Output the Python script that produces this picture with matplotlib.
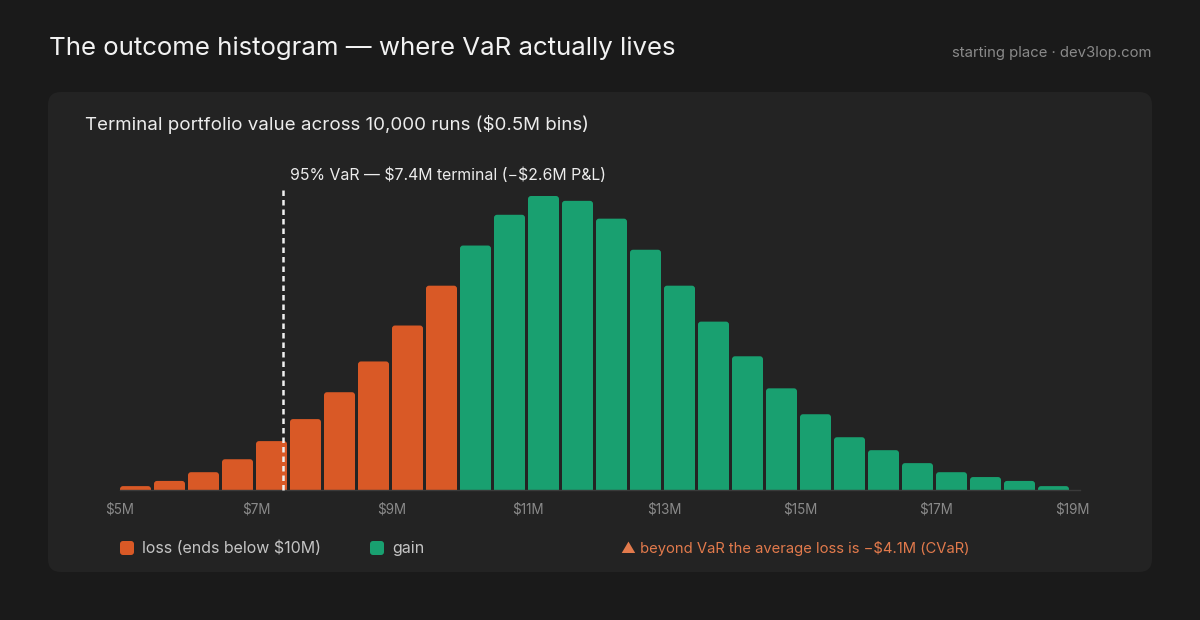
import numpy as np
import matplotlib
matplotlib.use('Agg')
import matplotlib.pyplot as plt
from matplotlib.patches import FancyBboxPatch

plt.rcParams['font.family'] = ['Inter', 'DejaVu Sans']
plt.rcParams['text.parse_math'] = False

# datos: inicio de cada bin ($M) y numero de corridas
bin_lo = [5.0, 5.5, 6.0, 6.5, 7.0, 7.5, 8.0, 8.5, 9.0, 9.5,
          10.0, 10.5, 11.0, 11.5, 12.0, 12.5, 13.0, 13.5, 14.0, 14.5,
          15.0, 15.5, 16.0, 16.5, 17.0, 17.5, 18.0, 18.5]
counts = [12, 28, 55, 95, 151, 219, 302, 397, 508, 631,
          755, 850, 908, 893, 838, 742, 631, 520, 413, 314,
          234, 163, 123, 83, 55, 40, 28, 12]
bin_w = 0.5
start_value = 10.0
var_value = 7.4
tick_vals = [5, 7, 9, 11, 13, 15, 17, 19]
tick_labels = ['$%dM' % v for v in tick_vals]

title = 'The outcome histogram \u2014 where VaR actually lives'
subtitle = 'Terminal portfolio value across 10,000 runs ($0.5M bins)'
source = 'starting place \u00b7 dev3lop.com'
var_label = '95% VaR \u2014 $7.4M terminal (\u2212$2.6M P&L)'
cvar_note = '\u25b2 beyond VaR the average loss is \u2212$4.1M (CVaR)'
loss_label = 'loss (ends below $10M)'
gain_label = 'gain'

BG = '#1a1a1a'
CARD = '#232323'
ORANGE = '#d95926'
GREEN = '#19a070'

W, H = 1200, 620
fig = plt.figure(figsize=(W/100., H/100.), dpi=100, facecolor=BG)

# capa de fondo en pixeles
bg = fig.add_axes([0, 0, 1, 1])
bg.set_xlim(0, W)
bg.set_ylim(H, 0)
bg.axis('off')
bg.add_patch(FancyBboxPatch((48, 92), 1104, 480,
                            boxstyle='round,pad=0,rounding_size=13',
                            facecolor=CARD, edgecolor='none'))
bg.text(49, 48, title, fontsize=18.6, color='#f2f2f2', va='center', ha='left')
bg.text(1152, 53, source, fontsize=10.7, color='#8a8a8a', va='center', ha='right')
bg.text(85, 124, subtitle, fontsize=13.5, color='#ececec', va='center', ha='left')

# leyenda
for x0, c, lab in [(120, ORANGE, loss_label), (370, GREEN, gain_label)]:
    bg.add_patch(FancyBboxPatch((x0, 541), 14, 14,
                                boxstyle='round,pad=0,rounding_size=3',
                                facecolor=c, edgecolor='none'))
    bg.text(x0 + 22, 548, lab, fontsize=11.5, color='#c4c4c4', va='center', ha='left')
bg.text(621, 548, cvar_note, fontsize=10.65, color='#e27a4c', va='center', ha='left')

# histograma
px_per_m = 68.
ax_left, ax_right, ax_base, ax_top = 120, 1080, 490, 190
ax = fig.add_axes([ax_left/W, 1 - ax_base/float(H),
                   (ax_right - ax_left)/float(W), (ax_base - ax_top)/float(H)])
ax.set_facecolor('none')
xmin = bin_lo[0]
ax.set_xlim(xmin, xmin + (ax_right - ax_left)/px_per_m)
ymax = max(counts) * (ax_base - ax_top) / 294.
ax.set_ylim(0, ymax)

y_per_px = ymax / (ax_base - ax_top)
x_per_px = 1. / px_per_m
bar_w = 31 * x_per_px
for b, c in zip(bin_lo, counts):
    col = ORANGE if b < start_value else GREEN
    p = FancyBboxPatch((b, -6*y_per_px), bar_w, c + 6*y_per_px,
                       boxstyle='round,pad=0,rounding_size=%f' % (3*x_per_px),
                       mutation_aspect=y_per_px/x_per_px,
                       facecolor=col, edgecolor='none')
    ax.add_patch(p)

for s in ['top', 'right', 'left']:
    ax.spines[s].set_visible(False)
ax.spines['bottom'].set_color('#3a3a3a')
ax.spines['bottom'].set_linewidth(1.0)
ax.set_yticks([])
ax.set_xticks(tick_vals)
ax.set_xticklabels(tick_labels)
ax.tick_params(axis='x', length=0, pad=9, labelsize=9.7, labelcolor='#8a8a8a')

ax.axvline(var_value, 0, 1, color='#f0f0f0', lw=1.8, ls=(0, (2.2, 1.6)),
           clip_on=False, zorder=5)
ax.annotate(var_label, xy=(var_value, 1), xycoords=('data', 'axes fraction'),
            xytext=(7, 15), textcoords='offset pixels',
            fontsize=11.4, color='#ececec', va='center', ha='left')

plt.savefig('out.png', dpi=100, facecolor=BG)
plt.close()
